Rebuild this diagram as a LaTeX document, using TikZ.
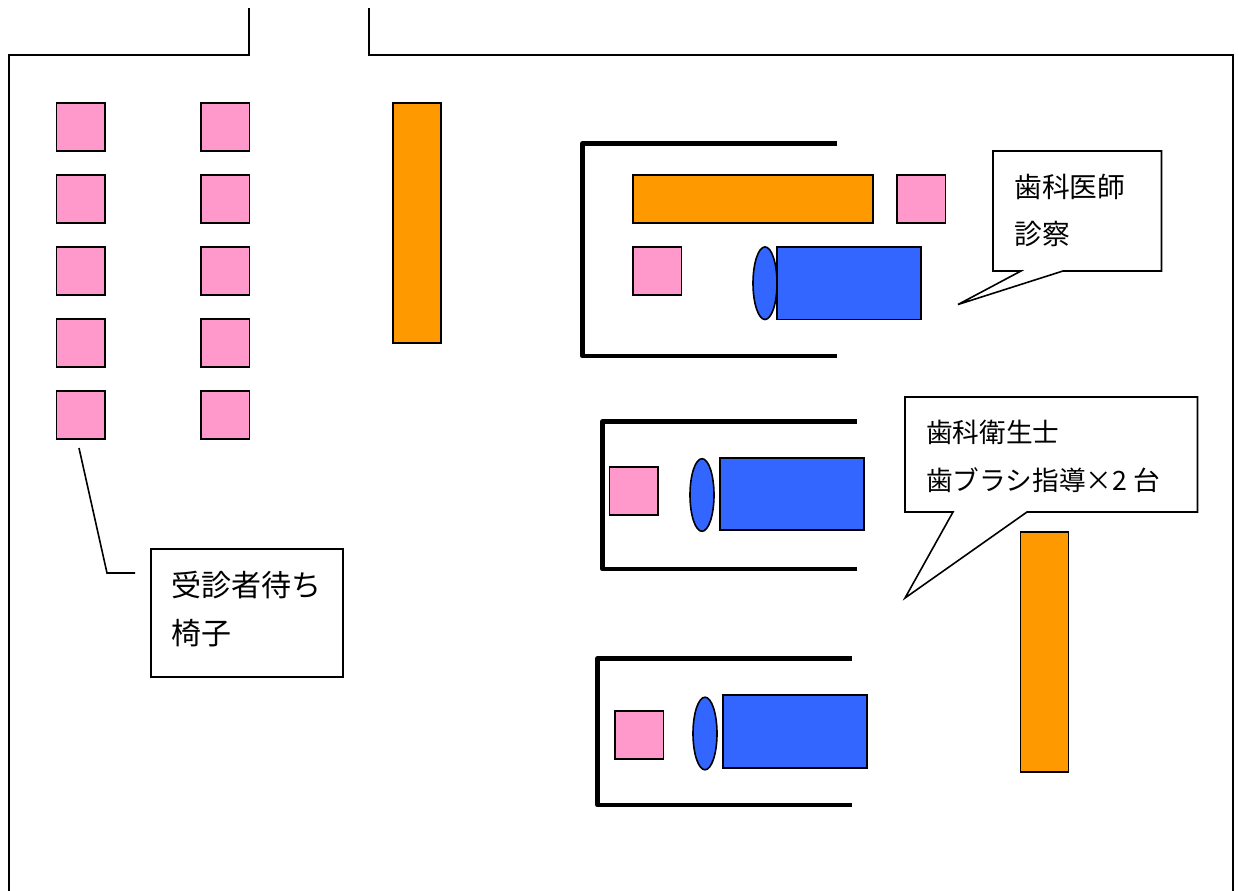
\documentclass[tikz,border=0pt]{standalone}
\usepackage{fontspec}
\setmainfont{Noto Sans CJK JP}
\definecolor{seatpink}{HTML}{FF99CC}
\definecolor{deskorange}{HTML}{FF9900}
\definecolor{bedblue}{HTML}{3366FF}
\tikzset{
  wall/.style={draw=black,line width=1.2pt,line join=miter},
  booth/.style={draw=black,line width=3.5pt,line join=round},
  seat/.style={draw=black,fill=seatpink,line width=1.2pt},
  desk/.style={draw=black,fill=deskorange,line width=1.2pt},
  bed/.style={draw=black,fill=bedblue,line width=1.2pt},
  callout/.style={draw=black,fill=white,line width=1.2pt,line join=miter},
  lead/.style={draw=black,line width=1.2pt},
  lbl/.style={anchor=west,inner sep=0pt,font=\fontsize{20pt}{24pt}\selectfont},
  lblwide/.style={anchor=west,inner sep=0pt,font=\fontsize{22.5pt}{26pt}\selectfont},
  lblmid/.style={anchor=west,inner sep=0pt,font=\fontsize{20.8pt}{25pt}\selectfont},
}
\newcommand{\seatat}[2]{\draw[seat] (#1,#2) rectangle ++(48.5,48);}
\begin{document}
\begin{tikzpicture}[x=0.75pt,y=-0.75pt]
\useasboundingbox (0,0) rectangle (1239,891);
% room
\draw[wall] (249,8) -- (249,55) -- (9,55) -- (9,891);
\draw[wall] (369,8) -- (369,55) -- (1233,55) -- (1233,891);
% waiting seats
\foreach \y in {103,175,247,319,391}{
  \seatat{56.5}{\y}
  \seatat{201}{\y}
}
\draw[desk] (393,103) rectangle (441,343);
% booth 1
\draw[booth] (837,143.5) -- (582.5,143.5) -- (582.5,356) -- (837,356);
\draw[desk] (633,175) rectangle (873,223);
\seatat{897}{175}
\seatat{633}{247}
\draw[bed] (777,247) rectangle (921,319.5);
\draw[bed] (765,283.2) ellipse [x radius=12,y radius=36.3];
% booth 2
\draw[booth] (857,421.5) -- (602.5,421.5) -- (602.5,569) -- (857,569);
\seatat{609.5}{467}
\draw[bed] (720,458) rectangle (864,530);
\draw[bed] (702,495) ellipse [x radius=12,y radius=36.3];
% booth 3
\draw[booth] (852,658.5) -- (597.5,658.5) -- (597.5,805) -- (852,805);
\seatat{615}{711}
\draw[bed] (723,695) rectangle (867,768);
\draw[bed] (705,733.5) ellipse [x radius=12,y radius=36.3];
\draw[desk] (1020.5,532) rectangle (1068.5,772);
% callouts
\draw[callout] (993,151) -- (1161.5,151) -- (1161.5,271) -- (1063,271) -- (958,304.5) -- (1021,271) -- (993,271) -- cycle;
\node[lblmid] (t1) at (1014,187) {歯科医師};
\node[lblmid] (t2) at (1014,234) {診察};
\draw[callout] (905,397) -- (1197.5,397) -- (1197.5,512) -- (1027,512) -- (905,598) -- (953,512) -- (905,512) -- cycle;
\node[lbl] (t3) at (926,432) {歯科衛生士};
\node[lbl] (t4) at (926,480) {歯ブラシ指導×2 台};
\draw[callout] (151,549) rectangle (343,677);
\node[lblwide] (t5) at (171,585) {受診者待ち};
\node[lblwide] (t6) at (171,633) {椅子};
\draw[lead] (79,448) -- (107,573) -- (135,573);
\end{tikzpicture}
\end{document}
